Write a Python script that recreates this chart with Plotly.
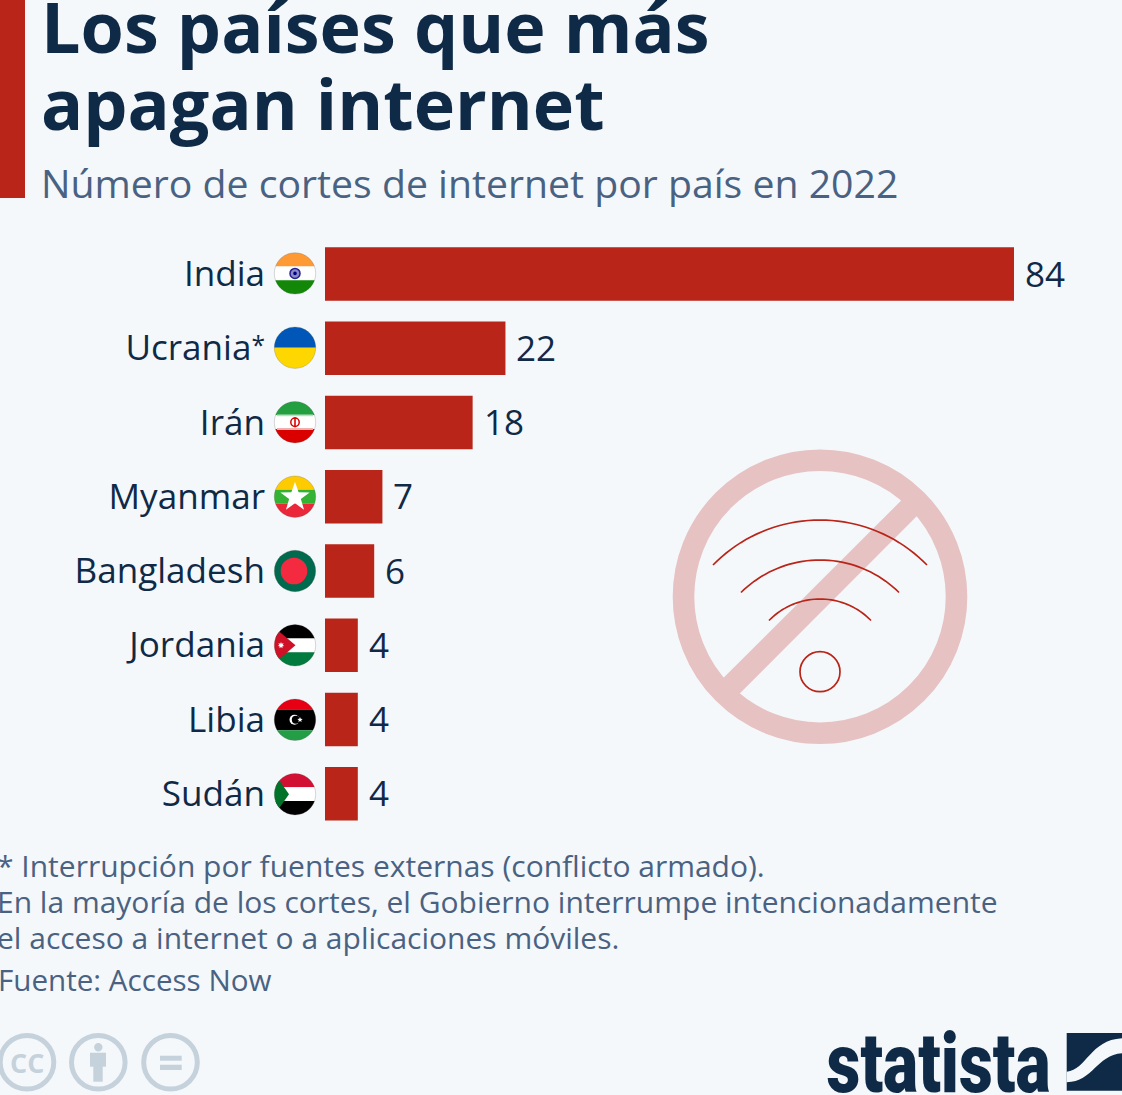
import math
import plotly.graph_objects as go

countries = ["India", "Ucrania*", "Irán", "Myanmar", "Bangladesh", "Jordania", "Libia", "Sudán"]
tick_labels = ["India", "Ucrania<sup>*</sup>", "Irán", "Myanmar", "Bangladesh", "Jordania", "Libia", "Sudán"]
cuts = [84, 22, 18, 7, 6, 4, 4, 4]
title_lines = ["Los países que más", "apagan internet"]
subtitle = "Número de cortes de internet por país en 2022"
notes = ["* Interrupción por fuentes externas (conflicto armado).",
         "En la mayoría de los cortes, el Gobierno interrumpe intencionadamente",
         "el acceso a internet o a aplicaciones móviles."]
source = "Fuente: Access Now"

W, H = 1122, 1095
BG = "#F5F8FB"
RED = "#B92519"
DARK = "#0F2A47"
MUTED = "#4A6282"
ICON = "#C5D2DC"
SANS = "Open Sans"


def px(x):
    return x / W


def py(y):
    return 1 - y / H


shapes = []
annotations = []


def path_str(points, close=True):
    d = "M" + " L".join(f"{px(x):.5f},{py(y):.5f}" for x, y in points)
    return d + (" Z" if close else "")


def poly(points, color):
    shapes.append(dict(type="path", xref="paper", yref="paper", path=path_str(points),
                       fillcolor=color, line=dict(width=0), layer="above"))


def circle(cx, cy, r, fill=None, line=None, width=0):
    shapes.append(dict(type="circle", xref="paper", yref="paper",
                       x0=px(cx - r), x1=px(cx + r), y0=py(cy + r), y1=py(cy - r),
                       fillcolor=fill if fill else "rgba(0,0,0,0)",
                       line=dict(color=line if line else "rgba(0,0,0,0)", width=width), layer="above"))


def rect(x0, y0, x1, y1, color):
    shapes.append(dict(type="rect", xref="paper", yref="paper", x0=px(x0), x1=px(x1),
                       y0=py(y1), y1=py(y0), fillcolor=color, line=dict(width=0), layer="above"))


def band(cx, cy, r, a, b, color):
    """Horizontal slice of a disc between offsets a and b (px from centre, downward)."""
    n = 24
    right, left = [], []
    for i in range(n + 1):
        yy = a + (b - a) * i / n
        dx = math.sqrt(max(r * r - yy * yy, 0))
        right.append((cx + dx, cy + yy))
        left.append((cx - dx, cy + yy))
    poly(right + left[::-1], color)


def hoist(cx, cy, r, tip, color):
    """Triangle at the flag's hoist, clipped by the disc."""
    d = r * 0.66
    a0 = math.asin(d / r)
    pts = []
    for i in range(17):
        t = -a0 + 2 * a0 * i / 16
        pts.append((cx - r * math.cos(t), cy + r * math.sin(t)))
    poly(pts + [(cx + tip, cy)], color)


def star(cx, cy, R, color, n=5, inner=0.42):
    pts = []
    for i in range(2 * n):
        rr = R if i % 2 == 0 else R * inner
        t = -math.pi / 2 + i * math.pi / n
        pts.append((cx + rr * math.cos(t), cy + rr * math.sin(t)))
    poly(pts, color)


def text(x, y, s, size, color, anchor="left", weight=400, family=SANS):
    annotations.append(dict(xref="paper", yref="paper", x=px(x), y=py(y), text=s,
                            showarrow=False, xanchor=anchor, yanchor="middle", borderpad=0,
                            font=dict(family=family, size=size, color=color, weight=weight)))


# Header
rect(0, 0, 25, 198, RED)
text(40, 26, title_lines[0], 70, DARK, weight=700)
text(40, 103, title_lines[1], 70, DARK, weight=700)
text(40, 183, subtitle, 39.2, MUTED)

# Footer
for yy, s in zip((865, 901, 937), notes):
    text(-4, yy, s, 30, MUTED)
text(-3, 979, source, 29.6, MUTED)

# Flags
FX, FR = 295, 20.7
FY = [273.4, 347.7, 422.2, 496.7, 571, 645.3, 719.8, 794.2]
T = FR / 3

c = FY[0]
band(FX, c, FR, -FR, -T, "#FF9933"); band(FX, c, FR, -T, T, "#FFFFFF"); band(FX, c, FR, T, FR, "#138808")
circle(FX, c, 5, "#8A8AC8", "#22228F", 1.5); circle(FX, c, 1.8, "#000080")

c = FY[1]
band(FX, c, FR, -FR, 0, "#0057B7"); band(FX, c, FR, 0, FR, "#FFD700")

c = FY[2]
band(FX, c, FR, -FR, -T, "#239F40"); band(FX, c, FR, -T, T, "#FFFFFF"); band(FX, c, FR, T, FR, "#DA0000")
rect(FX - 18, c - T - 0.8, FX + 18, c - T + 1, "#B9DFC1")
rect(FX - 18, c + T - 1, FX + 18, c + T + 0.8, "#F0B0B0")
circle(FX, c, 4.2, None, "#DA0000", 1.5); rect(FX - 0.8, c - 5, FX + 0.8, c + 5, "#DA0000")

c = FY[3]
band(FX, c, FR, -FR, -T, "#FECB00"); band(FX, c, FR, -T, T, "#34B233"); band(FX, c, FR, T, FR, "#EA2839")
star(FX, c + 0.5, 15.4, "#FFFFFF", inner=0.4)

c = FY[4]
circle(FX, c, FR, "#006A4E"); circle(FX - 1, c, 13.3, "#F42A41")

c = FY[5]
band(FX, c, FR, -FR, -T, "#000000"); band(FX, c, FR, -T, T, "#FFFFFF"); band(FX, c, FR, T, FR, "#007A3D")
hoist(FX, c, FR, 0.5, "#CE1126"); star(FX - 14, c, 3.4, "#FFFFFF", n=7, inner=0.5)

c = FY[6]
band(FX, c, FR, -FR, -FR / 2, "#E70013"); band(FX, c, FR, -FR / 2, FR / 2, "#000000")
band(FX, c, FR, FR / 2, FR, "#239E46")
circle(FX - 0.5, c, 5, "#FFFFFF"); circle(FX + 0.8, c, 4, "#000000"); star(FX + 5, c, 2.8, "#FFFFFF", inner=0.45)

c = FY[7]
band(FX, c, FR, -FR, -T, "#D21034"); band(FX, c, FR, -T, T, "#FFFFFF"); band(FX, c, FR, T, FR, "#000000")
hoist(FX, c, FR, -6, "#007229")

for c in FY:
    circle(FX, c, FR, None, "rgba(90,90,90,0.35)", 0.7)

# "No wifi" illustration
PINK = "#E6C2C3"
WX, WY = 820, 596.7
circle(WX, WY, 136.5, None, PINK, 21.6)
poly([(716, 685.3), (908, 493.7), (923.7, 509.3), (732, 701.3)], PINK)


def arc(half, apex, end):
    sag = end - apex
    r = (half * half + sag * sag) / (2 * sag)
    a0 = math.asin(half / r)
    pts = []
    for i in range(41):
        t = -a0 + 2 * a0 * i / 40
        pts.append((WX + r * math.sin(t), apex + r - r * math.cos(t)))
    shapes.append(dict(type="path", xref="paper", yref="paper", path=path_str(pts, close=False),
                       fillcolor="rgba(0,0,0,0)", line=dict(color=RED, width=1.7), layer="above"))


arc(107, 520, 565)
arc(79, 560, 592.5)
arc(51, 599, 620.5)
circle(WX, 671.7, 20, None, RED, 1.7)

# Licence icons
for cx in (27, 98.3, 170.5):
    circle(cx, 1062.3, 26.8, None, ICON, 5)
text(27, 1062, "CC", 27, ICON, anchor="center", weight=700)
circle(98.3, 1047.3, 4.2, ICON)
rect(90, 1052.7, 106, 1066.7, ICON)
rect(93.3, 1066, 102.7, 1081.7, ICON)
rect(160, 1055.7, 181.7, 1060.7, ICON)
rect(160, 1064.7, 181.7, 1070, ICON)

# Statista logo
text(938, 1063, "statista", 84, DARK, anchor="center", weight=900, family="Roboto")
rect(1066.7, 1033, 1122, 1090.7, DARK)
x0, y0 = 810, 1020
sw = [(770, 155), (830, 150, 840, 60, 936, 55), (936, 100), (860, 105, 850, 185, 770, 187)]
d = f"M{px(x0 + sw[0][0] / 3):.5f},{py(y0 + sw[0][1] / 3):.5f}"
q = sw[1]
d += " C" + ",".join(f"{px(x0 + q[i] / 3) if i % 2 == 0 else py(y0 + q[i] / 3):.5f}" for i in range(6))
d += f" L{px(x0 + sw[2][0] / 3):.5f},{py(y0 + sw[2][1] / 3):.5f}"
q = sw[3]
d += " C" + ",".join(f"{px(x0 + q[i] / 3) if i % 2 == 0 else py(y0 + q[i] / 3):.5f}" for i in range(6))
shapes.append(dict(type="path", xref="paper", yref="paper", path=d + " Z", fillcolor=BG,
                   line=dict(width=0), layer="above"))

# Value labels
for name, v in zip(countries, cuts):
    annotations.append(dict(xref="x", yref="y", x=v, y=name, text=str(v), showarrow=False, xanchor="left",
                            yanchor="middle", xshift=10, yshift=0.7, borderpad=0,
                            font=dict(family=SANS, size=35, color=DARK)))

fig = go.Figure(go.Bar(y=countries, x=cuts, orientation="h", marker=dict(color=RED, line=dict(width=0)),
                       hoverinfo="skip"))
fig.update_layout(
    width=W, height=H, margin=dict(l=0, r=0, t=0, b=0, pad=0), autosize=False,
    paper_bgcolor=BG, plot_bgcolor=BG, showlegend=False, bargap=0.28,
    shapes=shapes, annotations=annotations,
    xaxis=dict(domain=[325 / W, 1], range=[0, 797 / 8.2024], visible=False, fixedrange=True),
    yaxis=dict(domain=[1 - 830.8 / H, 1 - 236.8 / H], autorange="reversed", type="category",
               categoryorder="array", categoryarray=countries, showgrid=False, zeroline=False, showline=False,
               tickmode="array", tickvals=countries, ticktext=tick_labels,
               ticks="", ticklabelstandoff=59, fixedrange=True,
               tickfont=dict(family=SANS, size=35.1, color=DARK)),
)
post = """
document.body.style.margin='0';document.body.style.background='%s';
document.querySelectorAll('.annotation-text').forEach(function(t){
  if(t.textContent==='statista'){t.setAttribute('textLength','224');t.setAttribute('lengthAdjust','spacingAndGlyphs');}
});
document.querySelectorAll('.ytick text tspan').forEach(function(t){
  var dy=t.getAttribute('dy');
  if(dy==='-0.6em'){t.setAttribute('dy','-0.28em');}
  else if(dy==='0.42em'){t.setAttribute('dy','0.196em');}
});
""" % BG
fig.write_html("out.html", config=dict(displayModeBar=False), post_script=post)
